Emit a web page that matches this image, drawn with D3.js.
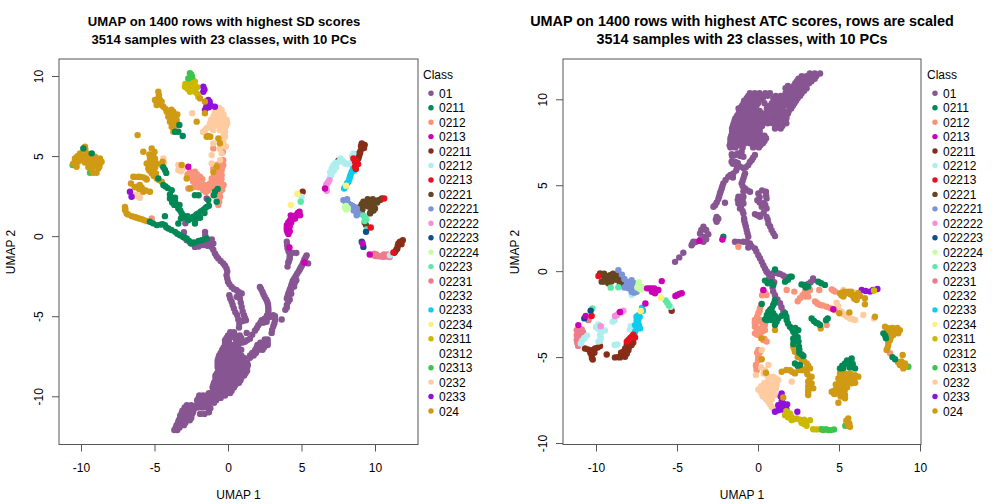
<!DOCTYPE html>
<html>
<head>
<meta charset="utf-8">
<script src="https://cdn.jsdelivr.net/npm/d3@7"></script>
<style>
  html, body { margin: 0; padding: 0; background: #fff; }
  text { font-family: "Liberation Sans", sans-serif; fill: #000; }
</style>
</head>
<body>
<div id="chart"></div>
<script>
const classes = ['01', '0211', '0212', '0213', '02211', '02212', '02213', '02221', '022221', '022222', '022223', '022224', '02223', '02231', '02232', '02233', '02234', '02311', '02312', '02313', '0232', '0233', '024'];
const classColors = ['#875692', '#008856', '#F99379', '#CC00B4', '#882D17', '#AEEEEE', '#E8101E', '#654522', '#7B93D8', '#F78FDC', '#0B4F8C', '#C4FFA6', '#5CE8A8', '#EE7B8C', '#FFFFFF', '#0FCCEE', '#FFF07A', '#CDB800', '#FFFFFF', '#3CC44E', '#FFCBA0', '#9010DC', '#D09A14'];
const drawOrder = ['01', '02231', '0212', '0232', '0233', '02311', '02313', '024', '0211', '02211', '02212', '02221', '022221', '022224', '02223', '022223', '02233', '022222', '02234', '02213', '0213'];
const xTicksLabels = [-10, -5, 0, 5, 10];
const ySdTicks = [-10, -5, 0, 5, 10];
const yAtcTicks = [-10, -5, 0, 5, 10];

// left panel, values
const sd01 = [[-3.65,-12.1],[-3.45,-12.1],[-3.5,-11.8],[-3.25,-11.8],[-3,-11.8],[-3.35,-11.5],[-3.1,-11.5],[-2.85,-11.5],[-2.6,-11.5],[-3.25,-11.2],[-3,-11.2],[-2.75,-11.2],[-2.5,-11.2],[-3.1,-10.9],[-2.85,-10.9],[-2.6,-10.9],[-2.35,-10.9],[-1.9,-11.1],[-1.6,-11.1],[-1.3,-11],[-1.2,-10.75],[-2.8,-10.55],[-2.5,-10.55],[-2.15,-10.55],[-1.9,-10.55],[-1.6,-10.55],[-1.3,-10.5],[-2.1,-10.25],[-1.85,-10.25],[-1.6,-10.25],[-1.35,-10.25],[-1.1,-10.25],[-.8,-10.25],[-1.95,-9.95],[-1.7,-9.95],[-1.45,-9.95],[-1.2,-9.95],[-.95,-9.95],[-.7,-9.95],[-.45,-9.95],[-.2,-9.95],[-1,-9.65],[-.75,-9.65],[-.5,-9.65],[-.25,-9.65],[0,-9.65],[.25,-9.65],[-1,-9.3],[-.75,-9.3],[-.5,-9.3],[-.25,-9.3],[0,-9.3],[.25,-9.3],[.5,-9.3],[-.85,-9],[-.6,-9],[-.35,-9],[-.1,-9],[.15,-9],[.4,-9],[.65,-9],[.85,-9],[-.85,-8.7],[-.6,-8.7],[-.35,-8.7],[-.1,-8.7],[.15,-8.7],[.4,-8.7],[.65,-8.7],[.9,-8.7],[1.1,-8.7],[-.65,-8.4],[-.4,-8.4],[-.15,-8.4],[.1,-8.4],[.35,-8.4],[.6,-8.4],[.85,-8.4],[1.1,-8.4],[1.3,-8.4],[-.7,-8.05],[-.45,-8.05],[-.2,-8.05],[.05,-8.05],[.3,-8.05],[.55,-8.05],[.8,-8.05],[1.05,-8.05],[1.35,-8.05],[-.7,-7.75],[-.45,-7.75],[-.2,-7.75],[.05,-7.75],[.3,-7.75],[.55,-7.75],[.8,-7.75],[1.05,-7.75],[-.6,-7.45],[-.35,-7.45],[-.1,-7.45],[.15,-7.45],[.4,-7.45],[.65,-7.45],[.9,-7.45],[1.5,-7.45],[1.75,-7.45],[-.4,-7.1],[-.15,-7.1],[.1,-7.1],[.35,-7.1],[.6,-7.1],[.9,-7.1],[1.85,-7.1],[2.1,-7.1],[2.35,-7.1],[-.2,-6.8],[.05,-6.8],[.3,-6.8],[.6,-6.8],[2,-6.8],[2.25,-6.8],[2.5,-6.8],[2.7,-6.8],[-.2,-6.5],[.05,-6.5],[.55,-6.5],[.85,-6.5],[2.5,-6.45],[2.7,-6.45],[0,-6.2],[.25,-6.2],[.5,-6.2],[.8,-6.2],[.15,-6],[.4,-6],[1.15,-6.6],[1.49,-6.4],[1.83,-5.9],[2.06,-5.56],[2.29,-5.25],[2.63,-5.15],[3.08,-4.94],[3.2,-5.25],[3.08,-5.63],[2.97,-6.04],[1.27,-6.04],[3.65,-5.2],[2.17,-3.17],[2.35,-3.48],[2.5,-3.8],[2.67,-4.1],[2.74,-4.42],[2.74,-4.73],[2.5,-5.15],[2.63,-5.35],[5.35,-1.2],[5.2,-1.45],[5.1,-1.7],[5.45,-1.7],[4.95,-1.95],[4.8,-2.2],[4.6,-2.5],[4.4,-2.8],[4.65,-2.75],[4.3,-3.1],[4.2,-3.35],[4.5,-3.15],[4.1,-3.6],[4.3,-3.6],[4,-3.9],[4.2,-3.95],[4,-4.3],[3.9,-4.6],[4,-.35],[4.05,-.75],[4.2,-1.1],[4.65,-1.05],[4.2,-1.4],[4.1,-1.65],[4.05,-1.9],[-1.68,-.56],[-1.12,-.67],[-.89,-1.08],[-.66,-1.4],[-.32,-1.7],[-.1,-2.02],[-.1,-2.44],[0,-2.85],[.25,-3.17],[.59,-3.38],[.93,-3.58],[.09,-3.69],[.25,-4.1],[.4,-4.52],[.63,-4.94],[.77,-5.46],[.81,-3.9],[.93,-4.42],[1.09,-4.94],[1.22,-5.25],[.59,-3.79],[-1.56,.27],[-2.81,1],[-3.04,.07],[-2.81,-.25],[-2.25,-.67],[-1.68,-.3],[-1.23,-.45],[-1,-.46],[-1.45,2.35],[-2.5,-.4],
  [-3.55,-11.95],[-3.3,-11.95],[-3.4,-11.65],[-3.15,-11.65],[-2.9,-11.65],[-3.25,-11.35],[-3,-11.35],[-2.75,-11.35],[-2.5,-11.35],[-3.15,-11.05],[-2.9,-11.05],[-2.65,-11.05],[-2.4,-11.05],[-2.95,-10.7],[-2.7,-10.7],[-2.45,-10.7],[-2.05,-10.7],[-1.75,-10.7],[-1.45,-10.7],[-2,-10.4],[-1.75,-10.4],[-1.5,-10.4],[-1.25,-10.4],[-.95,-10.4],[-2,-10.1],[-1.75,-10.1],[-1.5,-10.1],[-1.25,-10.1],[-1,-10.1],[-.75,-10.1],[-.5,-10.1],[-1.3,-9.8],[-1.05,-9.8],[-.8,-9.8],[-.55,-9.8],[-.3,-9.8],[-.05,-9.8],[.15,-9.8],[-1.05,-9.45],[-.85,-9.45],[-.6,-9.45],[-.35,-9.45],[-.1,-9.45],[.15,-9.45],[.4,-9.45],[-.95,-9.15],[-.7,-9.15],[-.45,-9.15],[-.2,-9.15],[.05,-9.15],[.3,-9.15],[.55,-9.15],[.75,-9.15],[-.85,-8.85],[-.6,-8.85],[-.35,-8.85],[-.1,-8.85],[.15,-8.85],[.4,-8.85],[.65,-8.85],[.9,-8.85],[-.75,-8.55],[-.5,-8.55],[-.25,-8.55],[0,-8.55],[.25,-8.55],[.5,-8.55],[.75,-8.55],[1,-8.55],[1.2,-8.55],[-.7,-8.2],[-.45,-8.2],[-.2,-8.2],[.05,-8.2],[.3,-8.2],[.55,-8.2],[.8,-8.2],[1.05,-8.2],[1.3,-8.2],[-.7,-7.9],[-.45,-7.9],[-.2,-7.9],[.05,-7.9],[.3,-7.9],[.55,-7.9],[.8,-7.9],[1.05,-7.9],[1.3,-7.9],[-.65,-7.6],[-.4,-7.6],[-.15,-7.6],[.1,-7.6],[.35,-7.6],[.6,-7.6],[.85,-7.6],[1.1,-7.6],[1.5,-7.6],[-.5,-7.3],[-.25,-7.3],[0,-7.3],[.25,-7.3],[.5,-7.3],[.75,-7.3],[1.65,-7.3],[1.9,-7.3],[-.3,-6.95],[-.05,-6.95],[.2,-6.95],[.45,-6.95],[.7,-6.95],[1.95,-6.95],[2.2,-6.95],[2.45,-6.95],[-.2,-6.65],[.05,-6.65],[.65,-6.65],[.95,-6.65],[2.2,-6.65],[2.45,-6.65],[2.7,-6.65],[-.1,-6.35],[.15,-6.35],[.6,-6.35],[.9,-6.35],[1.3,-6.5],[1.65,-6.15],[1.95,-5.75],[2.2,-5.4],[2.45,-5.2],[2.85,-5.05],[3.2,-5],[3.15,-5.45],[3,-5.85],[2.4,-5.4],[2.25,-3.3],[2.42,-3.65],[2.6,-3.95],[2.72,-4.25],[2.75,-4.6],[2.65,-4.95],[5.28,-1.32],[5.15,-1.6],[5.02,-1.85],[4.88,-2.08],[4.7,-2.35],[4.5,-2.65],[4.35,-2.95],[4.25,-3.25],[4.15,-3.5],[4.05,-3.75],[4.1,-4.1],[4,-4.45],[4.3,-3.3],[4.55,-2.9],[4.02,-.55],[4.12,-.95],[4.4,-1.05],[4.15,-1.55],[4.2,-1.25],[-1.4,-.6],[-1,-.85],[-.78,-1.25],[-.5,-1.55],[-.2,-1.85],[-.05,-2.2],[-.05,-2.65],[.1,-3],[.4,-3.3],[.75,-3.5],[.15,-3.9],[.32,-4.3],[.5,-4.75],[.7,-5.2],[.75,-5.7],[.87,-4.15],[1,-4.7],[1.15,-5.1],[1,-5.3],[.72,-3.65],[-2.95,-.1],[-2.55,-.45],[-2,-.65],[-1.55,.05],[-1.45,-.3],[-1.1,-.2],[-2.9,.8],[-1.75,-.5],[-3,.25]];
const sd0211 = [[-5.31,.9],[-4.85,.69],[-4.29,.69],[-4.6,.72],[-4.06,.48],[-3.6,.27],[-3.27,.06],[-2.81,-.15],[-2.47,-.46],[-1.79,-.25],[-1.45,-.15],[-4.29,1.25],[-4.4,3.19],[-4.1,3],[-3.83,2.87],[-3.95,2.35],[-3.6,2.4],[-3.6,2.15],[-3.38,1.73],[-3.15,1.42],[-2.93,1.2],[-3.38,.79],[-2.25,.79],[-2.36,1.21],[-2.02,1.42],[-1.68,1.63],[-1.45,1.83],[-3.8,2.1],[-3.3,1.95],[-2.7,1],[-1.9,1.15],[-2.25,2.56],[-2,2.55],[-1.34,2.25],[-.89,2.77],[-.77,2.15],[-4.29,4.13],[-4.74,3.6],[-3.38,6.52],[-3.6,6.52],[-3.08,6.25],[-3.31,6.94],[-9.84,5.48],[-9.27,5.17],
  [-5.1,.8],[-4.45,.75],[-4.2,.55],[-3.85,.38],[-3.45,.15],[-3.05,-.05],[-2.65,-.3],[-2.3,-.4],[-2,-.3],[-1.6,-.2],[-4.25,3.1],[-3.95,2.6],[-3.8,2.4],[-3.75,2.3],[-3.5,1.95],[-3.25,1.6],[-3.05,1.3],[-3.2,1.1],[-2.75,1.25],[-2.5,1.1],[-2.2,1.05],[-2.15,1.35],[-1.85,1.55],[-1.55,1.75],[-1.3,1.9],[-1.6,1.45],[-3.65,1.95],[-4.4,4.3],[-4.2,3.95],[-.95,2.55],[-.7,2.95]];
const sd0212 = [[-2.59,4.02],[-2.25,4.02],[-2.59,3.71],[-2.25,3.71],[-1.91,3.71],[-2.36,3.4],[-2.02,3.4],[-2.7,2.98],[-2.25,3.08],[-1.91,3.2],[-1.57,3.2],[-1.23,3.29],[-.89,3.4],[-.54,3.4],[-1.68,2.87],[-1.34,2.87],[-1.11,3.6],[-.77,3.71],[-.43,3.81],[-.43,4.13],[-.32,4.44],[-.32,4.75],[-.43,3.08],[-.54,2.77],[-.54,2.46],[-1,2.56],[-.66,1.94],[-5.19,1.1],[-.77,4.44],[-1,4.23],[-.6,4.3],[-1,5.48],[-.43,6.1],[-.5,5.5],[-.35,5.25],
  [-2.42,3.9],[-2.1,3.85],[-2.75,3.85],[-2.42,3.55],[-2.1,3.55],[-1.75,3.55],[-2.2,3.3],[-2.5,3],[-2,3.05],[-1.75,3],[-1.45,3.05],[-1.1,3.05],[-.75,3.05],[-1.5,2.75],[-1.05,3.4],[-.7,3.45],[-.95,3.75],[-.6,3.6],[-.45,3.55],[-.55,3.95],[-.4,4.3],[-.55,4.6],[-.85,4.2],[-.7,2.6],[-.6,2.15],[-.5,2.9],[-.7,3.9],[-1.25,3.05],[-.3,3.2],[-.4,2.9],[-.35,5.6]];
const sd0213 = [[-2.7,4.33],[6.6,2.98],[4.86,1.52],[4.56,1.1],[4.22,1],[4.27,1.3],[4,.69],[4,.38],[4.11,.13],[4.18,-.71],[5.2,-1.65],[9.16,-.46],[9.64,-1.15],[4.7,1.3],[4.4,1.05],[4.1,.85],[4,.53],[4.05,.25],[4.75,1.45],[4.3,.85],[4.2,.6],[4.2,.3],[4.9,1.3],[4.6,1.3]];
const sd02211 = [[9.1,5.79],[9.1,5.48],[8.98,5.17],[8.87,4.85],[8.71,4.75],[9.3,5.7],[5.08,2.77],[7.51,4.71],[11.89,-.25],[11.59,-.46],[11.52,-.77],[11.36,-.98],[11.8,-.5],[9.05,5.63],[9.25,5.5],[9,5.3],[8.92,5],[8.8,4.8],[8.7,5.1],[11.7,-.35],[11.55,-.6],[11.45,-.85],[11.3,-1.05]];
const sd02212 = [[7.74,4.75],[7.96,4.54],[7.28,4.54],[7.06,4.23],[7.06,3.92],[6.94,3.67],[8.3,4.54],[8.53,5.17],[5,2.46],[11.02,-1.19],[7.65,4.85],[7.85,4.65],[7.45,4.6],[7.15,4.4],[7.2,4.1],[7,3.8],[8.1,4.5],[8.45,5],[7.35,4.3],[6.95,4]];
const sd02213 = [[8.64,4.65],[8.53,4.85],[8.64,4.33],[8.85,4.5],[10.62,2.35],[9.71,.54],[11.25,-1.02],[8.75,4.7],[8.7,4.2]];
const sd02221 = [[9.21,2.15],[9.55,2.15],[9.89,2.15],[10.23,2.25],[10.46,2.35],[8.98,1.83],[9.32,1.94],[10,1.73],[9.78,1.63],[9.66,1.42],[8.98,1.52],[9.39,.69],[9.7,1.9],[9.38,2.1],[9.72,2.1],[10.05,2.2],[10.35,2.25],[9.1,2],[9.15,1.7],[9.55,1.85],[9.9,1.85],[9.5,2.3],[9.85,2.3],[9.9,1.6],[9.7,1.5],[9.1,1.45],[9.3,.85],[10.15,2.1]];
const sd022221 = [[7.85,2.25],[8.19,2.04],[8.48,1.88],[8.76,1.73],[8.76,1.52],[8,2.15],[8.35,1.95],[8.62,1.8],[8.55,1.6],[8.9,1.4],[8.75,1.3],[8.1,2.3]];
const sd022222 = [[6.83,3.4],[6.67,3.19],[6.72,2.83],[6.75,3.3],[6.7,3],[6.9,3.5]];
const sd022223 = [[9.39,.27],[9.1,-.35],[9.21,-.67]];
const sd022224 = [[8.03,1.88],[8.03,1.67],[4.95,1.35],[8.15,1.75],[7.95,1.8]];
const sd02223 = [[9.32,1.17],[4.95,2.15],[9.44,.42],[9.2,1.3],[9.4,1.05],[9.3,.95]];
const sd02231 = [[9.89,-1.19],[10.23,-1.25],[10.57,-1.29],[10.91,-1.25],[9.95,-1.1],[10.06,-1.25],[10.4,-1.27],[10.74,-1.27],[10.1,-1.15],[10.6,-1.15],[10.85,-1.15],[11,-1.3]];
const sd02232 = [];
const sd02233 = [[8.42,4.02],[8.3,3.71],[8.19,3.4],[7.9,2.98],[8.35,3.85],[8.25,3.55],[8.1,3.3],[8,3.1],[8.5,4.2],[8.6,4.1]];
const sd02234 = [[8.03,3.15],[4.72,2.63],[4.27,1.94]];
const sd02311 = [[-2.59,9.75],[-2.25,9.65],[-2.93,9.33],[-2.59,9.33],[-2.25,9.33],[-2.59,9.02],[-2.25,9.02],[-2.02,8.7],[-2.4,9.5],[-2.75,9.5],[-2.45,9.2],[-2.1,9.3],[-2.1,8.9],[-2.75,9.2],[-2.9,9.5],[-2.4,9.8]];
const sd02312 = [];
const sd02313 = [[-2.59,10.17],[-2.7,9.85],[-2.45,9.95],[-2.5,10.1],[-10.57,4.44],[-9.39,3.96]];
const sd0232 = [[-4.4,4.85],[-3.38,4.44],[-3.38,4.13],[-3.1,4.2],[-2.43,7.67],[-1.57,6.62],[-.77,7.77],[-.43,7.87],[-1,7.46],[-.54,7.46],[-.09,7.25],[-1.23,7.04],[-.77,7.04],[-.32,6.94],[-1,6.62],[-.54,6.62],[-.2,6.52],[-.2,6.21],[-.32,5.9],[-1,5.79],[-1.11,5.06],[-.43,5.17],[-.54,4.75],[-1.11,4.54],[-6.44,2.56],[-6.1,2.46],[-5.99,2.67],
  [-1.15,7.25],[-.9,7.25],[-.65,7.25],[-.35,7.25],[-.3,7.6],[-.65,7.65],[-.95,6.85],[-.55,6.9],[-1.2,6.8],[-.4,6.6],[-.15,6.85],[-.05,7.05],[-.75,7.45],[-.9,7.7],[-.3,6.25],[-.45,5.7],[-.55,5.45],[-.15,5.6],[-.2,7.3],[-3.2,4.05],[-6.25,2.55],[-6,2.4],[-4.35,4.6],[-1.7,6.5],[-1.45,6.75],[-.6,8],[-.85,7.95],[-1.05,7.1]];
const sd0233 = [[-1.68,9.33],[-1.68,9.02],[-1.34,8.5],[-1.45,8.19],[-1.2,8.2],[-1.57,7.87],[-.89,8.08],[-6.67,2.77],[-6.56,2.46],[-1.6,9.15],[-1.4,8.3],[-1.25,8.4],[-1.5,8],[-1.3,8.05],[-1.5,8.4]];
const sd024 = [[-9.73,5.58],[-10.07,5.17],[-9.62,5.17],[-10.41,4.85],[-9.96,4.85],[-9.5,4.85],[-9.05,4.96],[-8.71,4.85],[-10.52,4.54],[-9.39,4.54],[-8.94,4.54],[-8.71,4.54],[-10.2,4.65],[-9.73,4.6],[-9.27,4.23],[-8.82,4.23],[-9.16,3.96],[-8.94,3.96],[-10.3,4.33],[-4.74,9.02],[-4.74,8.6],[-4.97,8.5],[-4.51,8.4],[-4.85,8.19],[-4.4,8.08],[-4.17,7.77],[-3.72,7.77],[-4.06,7.46],[-3.61,7.46],[-3.95,7.15],[-3.49,7.25],[-3.83,6.83],[-3.49,6.94],[-3.72,6.52],[-6.15,6.31],[-5.19,5.48],[-5.76,5.27],[-5.31,4.85],[-4.97,4.85],[-5.53,4.54],[-5.19,4.54],[-4.85,4.54],[-5.42,4.23],[-5.08,4.23],[-5.19,3.92],[-4.9,3.92],[-4.85,3.6],[-4.51,3.4],[-4.45,4.65],[-4.51,4.44],[-6.44,3.71],[-6.1,3.71],[-5.76,3.67],[-5.53,3.54],[-6.6,3.29],[-6.2,3.08],[-5.87,3.04],[-5.31,2.77],[-5.76,2.77],[-7.01,1.63],[-6.9,1.42],[-6.55,1.25],[-6.21,1.15],[-5.87,1.06],[-5.53,.94],[-7.01,1.83],[-2.81,3.6],[-2.59,2.98],[-1.45,6.21],[-1.2,6.21],[-2.13,7.15],[-1.57,7.67],[-.66,6.1],[-.55,5.8],[-.77,4.33],[-1,4],[-1.9,8.6],[-1.57,8.4],[-3.15,4.44],
  [-10.25,5],[-9.85,5],[-9.3,4.95],[-9.7,5.4],[-9.8,4.7],[-9.15,4.7],[-9,4.75],[-8.85,4.7],[-9.1,4.4],[-8.75,4.35],[-10.4,4.6],[-10.1,4.95],[-9.5,4.3],[-9.25,4.6],[-8.6,4.65],[-4.7,8.8],[-4.85,8.35],[-4.55,8.2],[-4.65,8.55],[-4.25,7.95],[-3.95,7.7],[-3.85,7.9],[-3.8,7.3],[-3.7,7.1],[-3.65,6.85],[-3.75,7.6],[-3.45,7.6],[-5.3,4.6],[-5.35,5.1],[-5.1,5],[-5.05,4.7],[-5.25,4.35],[-5.35,4.1],[-5.05,4.05],[-5.05,3.75],[-4.7,3.5],[-6.3,3.7],[-5.95,3.7],[-5.6,3.6],[-6.05,2.95],[-5.6,2.85],[-6.35,3.05],[-6,3.2],[-6.8,1.35],[-6.35,1.2],[-6.05,1.1],[-5.7,1],[-6.98,1.7],[-5,5.25],[-1.35,6.25],[-4.95,4.3]];

// right panel, values
const atc01 = [[3.83,11.5],[3.5,11.5],[3.2,11.5],[3.5,11.2],[3.2,11.2],[2.9,11.2],[2.5,11.2],[3.15,10.93],[2.85,10.93],[2.55,10.93],[2.3,10.93],[3,10.64],[2.7,10.64],[2.4,10.64],[2.1,10.64],[1.7,10.64],[-.5,10.35],[-.2,10.35],[.1,10.35],[.45,10.35],[.74,10.35],[1.7,10.35],[2,10.35],[2.35,10.35],[2.7,10.35],[-.7,10.06],[-.4,10.06],[-.1,10.06],[.3,10.06],[.95,10.06],[1.25,10.06],[1.55,10.06],[1.85,10.06],[2.15,10.06],[2.45,10.06],[-.9,9.77],[-.6,9.77],[-.3,9.77],[0,9.77],[.4,9.77],[.85,9.77],[1.15,9.77],[1.45,9.77],[1.75,9.77],[2.25,9.77],[-1.2,9.47],[-.9,9.47],[-.6,9.47],[-.3,9.47],[.55,9.47],[.85,9.47],[1.15,9.47],[1.5,9.47],[2.05,9.47],[-1.2,9.18],[-.9,9.18],[-.6,9.18],[-.3,9.18],[0,9.18],[.3,9.18],[.55,9.18],[1.05,9.18],[1.35,9.18],[1.85,9.18],[-1.4,8.89],[-1.1,8.89],[-.8,8.89],[-.5,8.89],[-.2,8.89],[.2,8.89],[.75,8.89],[1.05,8.89],[1.45,8.89],[1.75,8.89],[-1.5,8.6],[-1.2,8.6],[-.9,8.6],[-.6,8.6],[-.3,8.6],[0,8.6],[.3,8.6],[.6,8.6],[.9,8.6],[1.2,8.6],[1.75,8.6],[-1.6,8.3],[-1.3,8.3],[-1,8.3],[-.7,8.3],[-.4,8.3],[-.1,8.3],[.1,8.3],[1.05,8.3],[1.4,8.3],[-1.6,8.02],[-1.3,8.02],[-1,8.02],[-.7,8.02],[-.4,8.02],[-.1,8.02],[.1,8.02],[-1.7,7.73],[-1.4,7.73],[-1.1,7.73],[-.8,7.73],[-.5,7.73],[-.2,7.73],[.1,7.73],[.5,7.73],[-1.7,7.44],[-1.4,7.44],[-1.1,7.44],[-.8,7.44],[-.5,7.44],[-.2,7.44],[.3,7.44],[-1.7,7.2],[-1.4,7.2],[-.95,7.2],[-.3,7.2],[.05,7.2],[-1.42,6.76],[-1.62,6.8],[-1.01,6.95],[-.9,6.66],[-1.63,6.37],[-1.42,6.37],[-.19,6.76],[-.39,6.46],[-.6,6.17],[-1.11,6.08],[-.9,6],[-1.52,5.69],[-1.83,5.49],[-.8,5.69],[-.9,5.4],[-2.14,5.11],[-2.24,4.81],[-1.01,5.11],[-.8,4.81],[-.49,4.62],[-2.35,4.52],[-2.45,4.2],[-2.65,3.84],[-2.04,3.98],[-1.21,4.33],[-.9,4.33],[-1.21,3.94],[-.9,3.94],[-1.11,3.65],[-.9,3.36],[-.86,3.07],[-2.55,3.16],[-2.55,2.87],[.02,4.52],[.49,4.62],[-.04,4.13],[.53,4.23],[.23,3.75],[.53,3.65],[-.19,3.32],[.12,3.16],[.53,3.16],[.64,2.78],[.84,2.39],[1.05,2.04],[-3.37,2.58],[-3.58,2.19],[-3.07,2.15],[-3.37,1.71],[-3.99,1.71],[-4.1,1.51],[-4.61,1.07],[-4.86,.8],[-5.12,.54],[-.8,2.78],[-.7,2.39],[-.6,2],[-.9,1.71],[-1.42,1.71],[-.5,1.61],[-.6,1.38],[-.19,1.32],[.02,.93],[.23,.54],[.43,.15],[.64,-.14],[1.25,-.14],[1.67,-.33],[3.4,-.43],[.53,-.03],[.84,-.51],[.94,-1.19],[1.36,-1.87],[1.56,-2.36],[1.36,-.16],[3.41,-.51],[2.9,-.86],
  [2.7,11.35],[3,11.35],[3.3,11.35],[3.6,11.35],[2.4,11.05],[2.7,11.05],[3,11.05],[3.3,11.05],[1.85,10.78],[2.2,10.78],[2.5,10.78],[2.8,10.78],[1.85,10.5],[2.2,10.5],[2.5,10.5],[2.85,10.5],[-.6,10.2],[-.3,10.2],[0,10.2],[.3,10.2],[.6,10.2],[1.1,10.2],[1.4,10.2],[1.7,10.2],[2,10.2],[2.3,10.2],[2.6,10.2],[-.85,9.92],[-.55,9.92],[-.25,9.92],[.05,9.92],[1.05,9.92],[1.35,9.92],[1.65,9.92],[1.95,9.92],[2.35,9.92],[-1,9.62],[-.7,9.62],[-.4,9.62],[-.1,9.62],[.7,9.62],[1,9.62],[1.3,9.62],[1.6,9.62],[1.9,9.62],[2.15,9.62],[-1.1,9.32],[-.8,9.32],[-.5,9.32],[-.2,9.32],[.1,9.32],[.65,9.32],[.95,9.32],[1.25,9.32],[1.55,9.32],[1.9,9.32],[-1.3,9.03],[-1,9.03],[-.7,9.03],[-.4,9.03],[-.1,9.03],[.2,9.03],[.45,9.03],[.9,9.03],[1.2,9.03],[1.5,9.03],[1.75,9.03],[-1.45,8.75],[-1.15,8.75],[-.85,8.75],[-.55,8.75],[-.25,8.75],[.05,8.75],[.35,8.75],[.6,8.75],[.9,8.75],[1.25,8.75],[1.6,8.75],[-1.55,8.45],[-1.25,8.45],[-.95,8.45],[-.65,8.45],[-.35,8.45],[-.05,8.45],[.25,8.45],[1.15,8.45],[1.5,8.45],[-1.6,8.16],[-1.3,8.16],[-1,8.16],[-.7,8.16],[-.4,8.16],[-.1,8.16],[.1,8.16],[-1.65,7.88],[-1.35,7.88],[-1.05,7.88],[-.75,7.88],[-.45,7.88],[-.15,7.88],[.15,7.88],[.4,7.88],[-1.7,7.58],[-1.4,7.58],[-1.1,7.58],[-.8,7.58],[-.5,7.58],[-.2,7.58],[.1,7.58],[.4,7.58],[-1.75,7.32],[-1.45,7.32],[-1.15,7.32],[-.15,7.32],[.15,7.32],
  [-1.6,6.7],[-1.25,6.85],[-1.1,6.7],[-1.55,6.25],[-1.25,6.3],[-1.3,6],[-.75,6.05],[-.5,6.35],[-.3,6.6],[-1.35,5.85],[-1.7,5.6],[-1.55,5.45],[-2,5.3],[-.85,5.55],[-.95,5.25],[-.95,4.95],[-.9,4.65],[-.65,4.7],[-2.2,4.95],[-2.3,4.65],[-2.4,4.35],[-2.55,4],[-2.75,3.75],[-1.05,4.33],[-1.05,3.94],[-1.25,4.15],[-.95,4.15],[-1.05,3.75],[-.95,3.5],[-2.6,3],[-2.45,3.05],[.1,4.3],[.25,4.7],[.5,4.4],[.1,4],[.35,3.95],[.45,3.85],[.1,3.25],[-.05,3.25],[.35,3.4],[.6,3],[.75,2.6],[.95,2.2],[-3.5,2.4],[-3.2,2.4],[-3.3,2],[-3.2,1.85],[-3.55,1.85],[-3.85,1.7],[-4.05,1.6],[-.85,2.95],[-.75,2.6],[-.65,2.2],[-1.2,1.7],[-.7,1.7],[-.4,1.45],[-.1,1.15],[.12,.75],[.33,.35],[.53,0],[.85,-.35],[.7,-.4],[1,-.65],[.9,-.95],[1.05,-1.4],[1.2,-1.65],[1.45,-2.1],[1.55,-.25],[1.1,-.1],[.95,-.1],[3.25,-.65],[3.1,-.75]];
const atc0211 = [[-2.14,2],[1.05,.1],[1.97,-.33],[2.08,-.32],[1.67,-.61],[.43,-.55],[.94,-.8],[2.69,-.77],[3.1,-.9],[3.72,-.61],[4.13,-.8],[.23,-1.91],[1.05,-1.68],[.94,-1.97],[.64,-2.36],[.94,-2.45],[.43,-2.8],[.84,-2.84],[1.25,-2.75],[1.05,-3.13],[1.67,-2.45],[1.77,-2.84],[1.97,-3.23],[2.18,-3.52],[2.49,-3.43],[2.18,-3.91],[2.45,-3.85],[2.18,-4.24],[2.53,-4.4],[2.55,-4.75],[2.8,-4.94],[2.28,-5.37],[2.59,-5.46],[3.31,-2.75],[3.58,-3],[3.83,-3.13],[4.3,-2.75],[5.78,-5.08],[5.37,-5.37],[5.06,-5.66],[5.99,-5.66],[5.6,-5.4],[7.9,-3.91],[8.46,-5.13],[7.74,-3.62],
  [1.85,-.5],[.6,-.7],[.8,-.65],[2.85,-.8],[2.95,-.95],[3.9,-.7],[1,-1.85],[.85,-2.15],[.75,-2.25],[.55,-2.55],[.75,-2.6],[1.05,-2.6],[.55,-2.85],[1.15,-2.95],[1.45,-2.6],[1.75,-2.65],[1.85,-3.05],[2.1,-3.35],[2.3,-3.3],[2.3,-3.65],[2.2,-4.05],[2.5,-4.1],[2.55,-4.55],[2.7,-4.85],[2.45,-5.5],[3.45,-2.9],[3.7,-3.05],[4.2,-2.85],[5.2,-5.5],[5.5,-5.2],[5.85,-5.4],[5.75,-5.25],[5.25,-5.65],[5.65,-5.6],[7.85,-3.75],[8.3,-5]];
const atc0212 = [[-1.21,1.42],[1.77,-1.1],[2.24,-1.19],[2.59,-1.58],[2.9,-1.19],[2.9,-1.48],[3.1,-1.48],[3.21,-1.1],[3.78,-1.1],[4.55,-1.06],[4.75,-1.19],[3.52,-1.77],[3.83,-1.97],[4.24,-2.07],[4.75,-2.26],[.33,-1.19],[.53,-1.39],[.12,-2.16],[.02,-2.45],[-.19,-2.84],[.12,-2.84],[.43,-3.13],[-.19,-3.23],[.12,-3.33],[.43,-3.43],[-.19,-3.62],[.12,-3.7],[.33,-4.01],[.53,-4.1],[.02,-4.59],[.02,-4.98],[-.13,-5.46],[-.08,-5.76],[4.24,-3.13],[8.15,-4.78],
  [.2,-1.95],[.1,-2.3],[-.05,-2.65],[-.05,-2.95],[-.2,-3],[.28,-3],[.3,-3.25],[.28,-3.5],[-.05,-3.4],[.05,-3.55],[-.05,-3.7],[.2,-3.9],[.4,-3.95],[.1,-4.75],[-.05,-4.75],[0,-5.2],[-.1,-5.6],[2.75,-1.4],[3.05,-1.25],[2.45,-1.75],[3.65,-1.85],[4,-2],[4.45,-2.15],[4.6,-2.2],[4.65,-1.12],[.25,-1.4],[.42,-1.25],[3.68,-1.9]];
const atc0213 = [[-2.2,1.84],[-3.62,1.76],[-6.7,-1],[-6.4,-1],[-6.15,-1.1],[-6.36,-1.29],[-5.94,-.58],[-4.98,-1.39],[-4.71,-1.29],[-6.95,-1.88],[-8.52,-2.38],[-10.64,-2.6],[-11.09,-3.14],[.33,-1.1],[4.65,-2.22],[-6.55,-1],[-6.3,-1.15],[-6.55,-1.2],[-4.85,-1.32],[-5.1,-1.45],[-6.85,-1]];
const atc02211 = [[-10.68,-4.5],[-10.37,-4.6],[-10.06,-4.5],[-9.75,-4.36],[-10.27,-4.89],[-10.2,-5.14],[-9.34,-4.85],[-8.83,-5.02],[-8.52,-5.02],[-8.21,-4.98],[-8.31,-4.69],[-8,-4.6],[-8.1,-4.3],[-7.8,-4.3],[-5.33,-2.3],[-10.5,-4.55],[-10.2,-4.6],[-9.9,-4.45],[-10.1,-4.75],[-10.35,-4.75],[-10.25,-5.05],[-8.65,-5],[-8.35,-4.9],[-8.1,-4.8],[-8.45,-4.75],[-7.95,-4.4],[-8.2,-4.5],[-7.7,-4.15]];
const atc02212 = [[-5.39,-2.07],[-7.8,-1.39],[-8.97,-2.94],[-9.96,-3.27],[-9.65,-3.43],[-9.75,-3.72],[-9.75,-4.05],[-10.74,-3.92],[-10.94,-4.21],[-8.68,-4.27],[-7.9,-3.39],[-9.85,-3.1],[-9.85,-3.35],[-9.7,-3.6],[-9.7,-3.9],[-9.85,-4.1],[-10.85,-4.05],[-8.85,-2.85],[-8.85,-4.3],[-7.85,-3.2],[-10.55,-3.75],[-9.45,-3.45],[-10,-3.25]];
const atc02213 = [[-9.85,-.28],[-10.27,-2.61],[-8,-4.01],[-7.8,-3.82],[-7.59,-3.86],[-7.9,-3.9],[-8.1,-4.1],[-7.7,-3.7]];
const atc02221 = [[-9.75,-.13],[-9.44,-.42],[-9.65,-.61],[-9.13,-.23],[-9.24,-.71],[-8.62,-.13],[-8.41,-.42],[-8.52,-.81],[-8.83,-.42],[-8.31,-.81],[-9.6,-.25],[-9.5,-.15],[-9.3,-.3],[-9.3,-.55],[-9.5,-.6],[-9,-.35],[-8.95,-.15],[-8.7,-.3],[-8.55,-.6],[-8.35,-.65],[-8.75,-.5],[-9.05,-.6]];
const atc022221 = [[-8.1,-.61],[-7.8,-.52],[-8.1,-.81],[-7.8,-.81],[-7.8,-1.2],[-7.49,-1.2],[-8.62,.06],[-8.25,-.45],[-7.95,-.65],[-7.65,-.7],[-8.4,-.2],[-8.25,-.95],[-8,-1],[-7.65,-1],[-7.55,-.9],[-7.65,-1.25]];
const atc022222 = [[-9.71,-3.2],[-8.83,-2.61],[-8.31,-2.3],[-8.7,-2.55],[-8.45,-2.4],[-8.6,-2.45]];
const atc022223 = [[-10.33,-2.3],[-10.72,-2.75]];
const atc022224 = [[-7.38,-.81],[-7.28,-1.06],[-7.08,-1],[-7.2,-.9],[-7.45,-.95],[-7.35,-.65]];
const atc02223 = [[-9.09,-.96],[-8.62,-.94],[-5.6,-1.84],[-10.22,-2.17],[-5.5,-2],[-5.7,-1.7]];
const atc02231 = [[-11.19,-3.43],[-11.19,-3.72],[-10.99,-3.53],[-11.19,-4.01],[-10.88,-3.39],[-10.47,-2.85],[-11.05,-3.3],[-11.05,-3.75],[-11,-3.95],[-11.15,-4.2],[-11.1,-4.35],[-10.8,-3.55]];
const atc02232 = [];
const atc02233 = [[-7.38,-2.56],[-7.49,-2.85],[-7.59,-3.14],[-7.59,-3.53],[-7.16,-2.13],[-7.28,-3.33],[-7.5,-2.65],[-7.3,-2.65],[-7.4,-2.95],[-7.35,-3.15],[-7.5,-3.35],[-7.65,-3.7],[-7.1,-2.3],[-7.4,-2.8]];
const atc02234 = [[-5.98,-1.55],[-7.24,-2.32]];
const atc02311 = [[1.67,-8.38],[1.97,-8.28],[2.08,-8.67],[2.69,-8.82],[3,-8.77],[3,-9],[3.21,-8.67],[3.62,-9.21],[7.16,-1.13],[2.39,-8.57],[1.85,-8.5],[2.25,-8.6],[2.85,-8.9],[2.6,-8.65],[2.85,-8.65],[3.4,-9.2],[3.85,-9.2],[1.75,-8.15],[2.05,-8.45]];
const atc02312 = [];
const atc02313 = [[4.03,-9.25],[4.34,-9.25],[4.69,-9.21],[5.39,-9],[9.28,-5.56],[4.2,-9.2],[4.5,-9.25],[3.95,-9.2]];
const atc0232 = [[4.85,-1.83],[5.37,-2.55],[5.68,-2.75],[5.99,-2.84],[6.5,-2.55],[7.16,-2.75],[5.99,-1.25],[5.27,-1.1],[.23,-4.59],[.43,-5.76],[.64,-5.46],[-.13,-6.05],[.64,-6.34],[.94,-6.14],[1.25,-6.34],[.53,-6.63],[.84,-6.63],[1.15,-6.63],[.02,-6.88],[.33,-7.02],[.64,-7.02],[.94,-6.92],[.43,-7.31],[.74,-7.31],[1.05,-7.21],[.64,-7.6],[.84,-7.89],[1.05,-8.09],[2.08,-6.43],
  [.2,-5.6],[.35,-5.95],[.55,-6.05],[.75,-6.2],[1.1,-6.25],[1.05,-6.5],[.7,-6.5],[.4,-6.5],[.2,-6.7],[.5,-6.9],[.8,-6.85],[1.1,-6.85],[.15,-7],[.55,-7.2],[.9,-7.15],[.5,-7.45],[.85,-7.45],[.75,-7.75],[.95,-8],[.25,-7.15],[.3,-7.3],[5.15,-2.35],[5.5,-2.65],[5.85,-2.8],[4.95,-2.05],[5.25,-2.5]];
const atc0233 = [[1.46,-7.6],[1.67,-7.89],[1.36,-7.99],[1.05,-8.18],[1.46,-7.11],[2.43,-8.18],[6.4,-1.1],[7.37,-1.04],[6.91,-1.19],[1.5,-7.4],[1.55,-7.7],[1.25,-7.8],[1.8,-7.75],[1.25,-8.1],[1.5,-8.05],[1.75,-8.05],[6.65,-1.15],[7.1,-1.1],[1.4,-7.3]];
const atc024 = [[5.57,-8.57],[5.64,-8.86],[5.68,-9.06],[5.06,-5.95],[5.37,-5.95],[5.68,-5.95],[5.99,-6.05],[4.96,-6.24],[5.27,-6.24],[5.57,-6.24],[5.88,-6.24],[6.19,-6.14],[5.27,-6.53],[5.78,-6.53],[4.85,-6.82],[5.16,-6.82],[4.55,-7.02],[4.85,-7.12],[5.16,-7.12],[5.37,-7.21],[5.37,-7.4],[4.96,-7.66],[2.18,-4.4],[2.28,-4.69],[2.69,-5.17],[3,-5.37],[3.21,-5.66],[3,-5.85],[3.31,-6.14],[3.1,-6.43],[3.31,-6.53],[3.1,-6.92],[3.1,-7.21],[3.41,-6.82],[1.97,-5.76],[2.28,-5.95],[1.46,-5.85],[2.69,-5.76],[1.56,-7.35],[.23,-3.91],[1.05,-3.43],[.23,-5.13],[.49,-5.91],[7.84,-3.23],[8.15,-3.33],[8.46,-3.43],[8.76,-3.43],[8.04,-3.62],[8.35,-3.72],[8.66,-3.62],[8.15,-4.01],[7.94,-4.59],[8.04,-4.3],[8.93,-4.88],[8.76,-5.46],[9.07,-5.37],[8.97,-5.66],[5.06,-1.29],[5.27,-1.48],[5.57,-1.19],[5.88,-1.48],[6.09,-1.68],[6.19,-1.29],[6.6,-1.58],[5.02,-2.45],[5.64,-2.4],[7.22,-2.65],[3.87,-3.33],[6.6,-1.93],
  [5.2,-6.1],[5.5,-6.1],[5.8,-6.1],[5.05,-6.4],[5.35,-6.4],[5.65,-6.4],[5.95,-6.4],[5,-6.55],[5.15,-6.65],[5.4,-6.6],[6,-6.5],[4.95,-7],[5.25,-7],[4.7,-6.95],[5.35,-6.95],[5.1,-7.3],[4.8,-6.6],[5.5,-6.75],[4.7,-7.15],[2.25,-4.55],[2.45,-5],[2.85,-5.25],[3.1,-5.5],[2.85,-5.7],[2.5,-5.75],[3.05,-6],[3.2,-6.25],[3.2,-6.7],[3.1,-6.7],[3.1,-7.05],[2.1,-5.85],[1.75,-5.75],[8,-3.45],[8.3,-3.55],[8.6,-3.5],[7.95,-3.3],[8.3,-3.3],[8.6,-3.3],[8.2,-3.85],[8.05,-4.15],[8,-4.45],[8.85,-5.25],[8.9,-5.5],[9.1,-5.55],[8.65,-5.3],[5.15,-1.4],[5.4,-1.3],[5.7,-1.35],[5.95,-1.6],[6,-1.4],[6.3,-1.45],[5.3,-1.2],[5.75,-1.2],[5.5,-8.8],[5.6,-9],[5.45,-8.7]];

const sdSeries = [sd01, sd0211, sd0212, sd0213, sd02211, sd02212, sd02213, sd02221, sd022221, sd022222, sd022223, sd022224, sd02223, sd02231, sd02232, sd02233, sd02234, sd02311, sd02312, sd02313, sd0232, sd0233, sd024];
const atcSeries = [atc01, atc0211, atc0212, atc0213, atc02211, atc02212, atc02213, atc02221, atc022221, atc022222, atc022223, atc022224, atc02223, atc02231, atc02232, atc02233, atc02234, atc02311, atc02312, atc02313, atc0232, atc0233, atc024];

const color = d3.scaleOrdinal().domain(classes).range(classColors);

const svg = d3.select('#chart')
  .append('svg')
  .attr('width', 1008)
  .attr('height', 504);

function drawPanel(opts) {
  const { left, right, series, xRange, yRange, yTicks, titleX, titleSize, titleLines, legendX } = opts;
  const top = 59;
  const bottom = 444.5;
  const x = d3.scaleLinear().domain([-10, 10]).range(xRange);
  const y = d3.scaleLinear().domain([-10, 10]).range(yRange);

  const panel = svg.append('g');

  drawOrder.forEach((name) => {
    const pts = series[classes.indexOf(name)];
    panel.append('g')
      .selectAll('circle')
      .data(pts)
      .join('circle')
      .attr('cx', (d) => x(d[0]))
      .attr('cy', (d) => y(d[1]))
      .attr('r', 3.2)
      .attr('fill', color(name));
  });

  panel.append('rect')
    .attr('x', left)
    .attr('y', top)
    .attr('width', right - left)
    .attr('height', bottom - top)
    .attr('fill', 'none')
    .attr('stroke', '#555');

  const xAxis = panel.append('g')
    .attr('transform', `translate(0, ${bottom})`)
    .call(d3.axisBottom(x).tickValues(xTicksLabels).tickSize(7).tickPadding(12).tickFormat((d) => `${d}`));
  const yAxis = panel.append('g')
    .attr('transform', `translate(${left}, 0)`)
    .call(d3.axisLeft(y).tickValues(yTicks).tickSize(7).tickFormat((d) => `${d}`));

  [xAxis, yAxis].forEach((axis) => {
    axis.select('.domain').remove();
    axis.selectAll('.tick line').attr('stroke', '#555');
    axis.selectAll('text')
      .style('font-family', '"Liberation Sans", sans-serif')
      .style('font-size', '12px');
  });
  yAxis.selectAll('.tick text')
    .attr('x', null)
    .attr('dy', null)
    .attr('text-anchor', 'middle')
    .attr('transform', 'translate(-16, 0) rotate(-90)');

  // titles
  titleLines.forEach((line, i) => {
    panel.append('text')
      .attr('x', titleX)
      .attr('y', 26 + i * 18)
      .attr('text-anchor', 'middle')
      .style('font-size', `${titleSize}px`)
      .style('font-weight', 'bold')
      .text(line);
  });

  panel.append('text')
    .attr('x', (left + right) / 2)
    .attr('y', 499)
    .attr('text-anchor', 'middle')
    .style('font-size', '12px')
    .text('UMAP 1');
  panel.append('text')
    .attr('transform', `translate(${left - 44}, 252) rotate(-90)`)
    .attr('text-anchor', 'middle')
    .style('font-size', '12px')
    .text('UMAP 2');

  // legend
  panel.append('text')
    .attr('x', legendX)
    .attr('y', 79)
    .style('font-size', '12px')
    .text('Class');
  const rowY = d3.scaleLinear().domain([0, classes.length - 1]).range([93.3, 411]);
  const row = panel.append('g')
    .selectAll('g')
    .data(classes)
    .join('g')
    .attr('transform', (d, i) => `translate(${legendX}, ${rowY(i)})`);
  row.append('circle')
    .attr('cx', 8)
    .attr('r', 2.7)
    .attr('fill', (d) => color(d));
  row.append('text')
    .attr('x', 16)
    .attr('y', 4.5)
    .style('font-size', '12px')
    .text((d) => d);
}

drawPanel({
  left: 59,
  right: 418,
  series: sdSeries,
  xRange: [81, 375],
  yRange: [396.3, 76],
  yTicks: ySdTicks,
  titleX: 224,
  titleSize: 13.1,
  titleLines: ['UMAP on 1400 rows with highest SD scores', '3514 samples with 23 classes, with 10 PCs'],
  legendX: 423,
});

drawPanel({
  left: 563,
  right: 921,
  series: atcSeries,
  xRange: [596, 920],
  yRange: [443, 99.3],
  yTicks: yAtcTicks,
  titleX: 742,
  titleSize: 14.4,
  titleLines: ['UMAP on 1400 rows with highest ATC scores, rows are scaled', '3514 samples with 23 classes, with 10 PCs'],
  legendX: 927,
});
</script>
</body>
</html>
